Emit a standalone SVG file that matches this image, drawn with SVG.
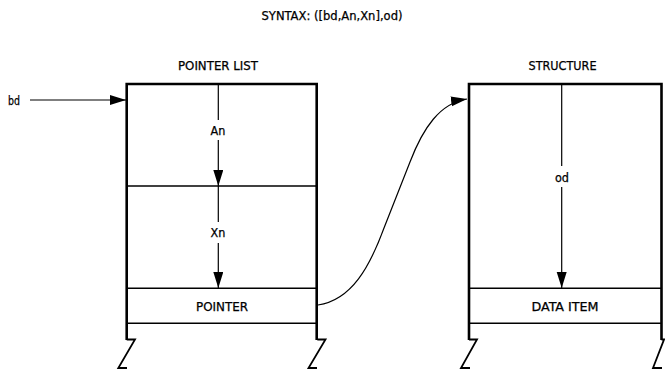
<svg xmlns="http://www.w3.org/2000/svg" width="665" height="370" viewBox="0 0 665 370">
<style>
text{font-family:"Liberation Sans Narrow","DejaVu Sans Condensed","Liberation Sans",sans-serif;font-size:12.5px;fill:#000;stroke:#000;stroke-width:0.25;text-anchor:middle}
.frame{fill:none;stroke:#000;stroke-width:2.6;stroke-linejoin:miter}
.div{fill:none;stroke:#000;stroke-width:1.6}
.brk{fill:none;stroke:#000;stroke-width:1.8;stroke-linejoin:miter}
.arr{fill:none;stroke:#000;stroke-width:1.2}
</style>
<defs>
<marker id="ah" markerUnits="userSpaceOnUse" markerWidth="18" markerHeight="12" refX="16" refY="5" orient="auto">
<path d="M0,0 L16,5 L0,10 Z" fill="#000"/>
</marker>
</defs>
<rect width="665" height="370" fill="#fff"/>
<text x="332" y="20" textLength="141" lengthAdjust="spacingAndGlyphs">SYNTAX: ([bd,An,Xn],od)</text>

<g id="pointer-list">
<text x="218" y="69.5" textLength="80" lengthAdjust="spacingAndGlyphs">POINTER LIST</text>
<path class="frame" d="M126.7,340 V84 H316.7 V340"/>
<line class="div" x1="126.7" y1="186" x2="316.7" y2="186"/>
<line class="div" x1="126.7" y1="288.3" x2="316.7" y2="288.3"/>
<line class="div" x1="126.7" y1="323.3" x2="316.7" y2="323.3"/>
<path class="brk" d="M126.7,339.5 H135 L118.3,368 H127"/>
<path class="brk" d="M317.3,339.5 H325.5 L308.5,368 H317"/>
<text x="222" y="310.5" textLength="52" lengthAdjust="spacingAndGlyphs">POINTER</text>
</g>

<g id="structure">
<text x="562.5" y="69.5" textLength="68" lengthAdjust="spacingAndGlyphs">STRUCTURE</text>
<path class="frame" d="M469,340 V84 H661.5 V340"/>
<line class="div" x1="469" y1="288.3" x2="661.5" y2="288.3"/>
<line class="div" x1="469" y1="323.3" x2="661.5" y2="323.3"/>
<path class="brk" d="M469,339.5 H477 L461,368 H470"/>
<path class="brk" d="M661.5,339.5 H664 L653,368 H662"/>
<text x="565" y="311" textLength="67" lengthAdjust="spacingAndGlyphs">DATA ITEM</text>
</g>

<g id="connectors">
<line class="arr" x1="30" y1="100" x2="126" y2="100" marker-end="url(#ah)"/>
<line class="arr" x1="218.3" y1="85" x2="218.3" y2="120"/>
<line class="arr" x1="218.3" y1="140" x2="218.3" y2="186" marker-end="url(#ah)"/>
<line class="arr" x1="218.3" y1="186" x2="218.3" y2="222"/>
<line class="arr" x1="218.3" y1="243" x2="218.3" y2="288" marker-end="url(#ah)"/>
<line class="arr" x1="561.7" y1="85" x2="561.7" y2="166"/>
<line class="arr" x1="561.7" y1="187" x2="561.7" y2="288" marker-end="url(#ah)"/>
<path class="arr" d="M318,305 C352,300 370,266 384,228 L410,162 C423,128 440,103 467,99" marker-end="url(#ah)"/>
</g>

<g id="labels">
<text x="14" y="104.5" textLength="12" lengthAdjust="spacingAndGlyphs">bd</text>
<text x="218" y="134.5">An</text>
<text x="218" y="237">Xn</text>
<text x="562" y="182">od</text>
</g>
</svg>
